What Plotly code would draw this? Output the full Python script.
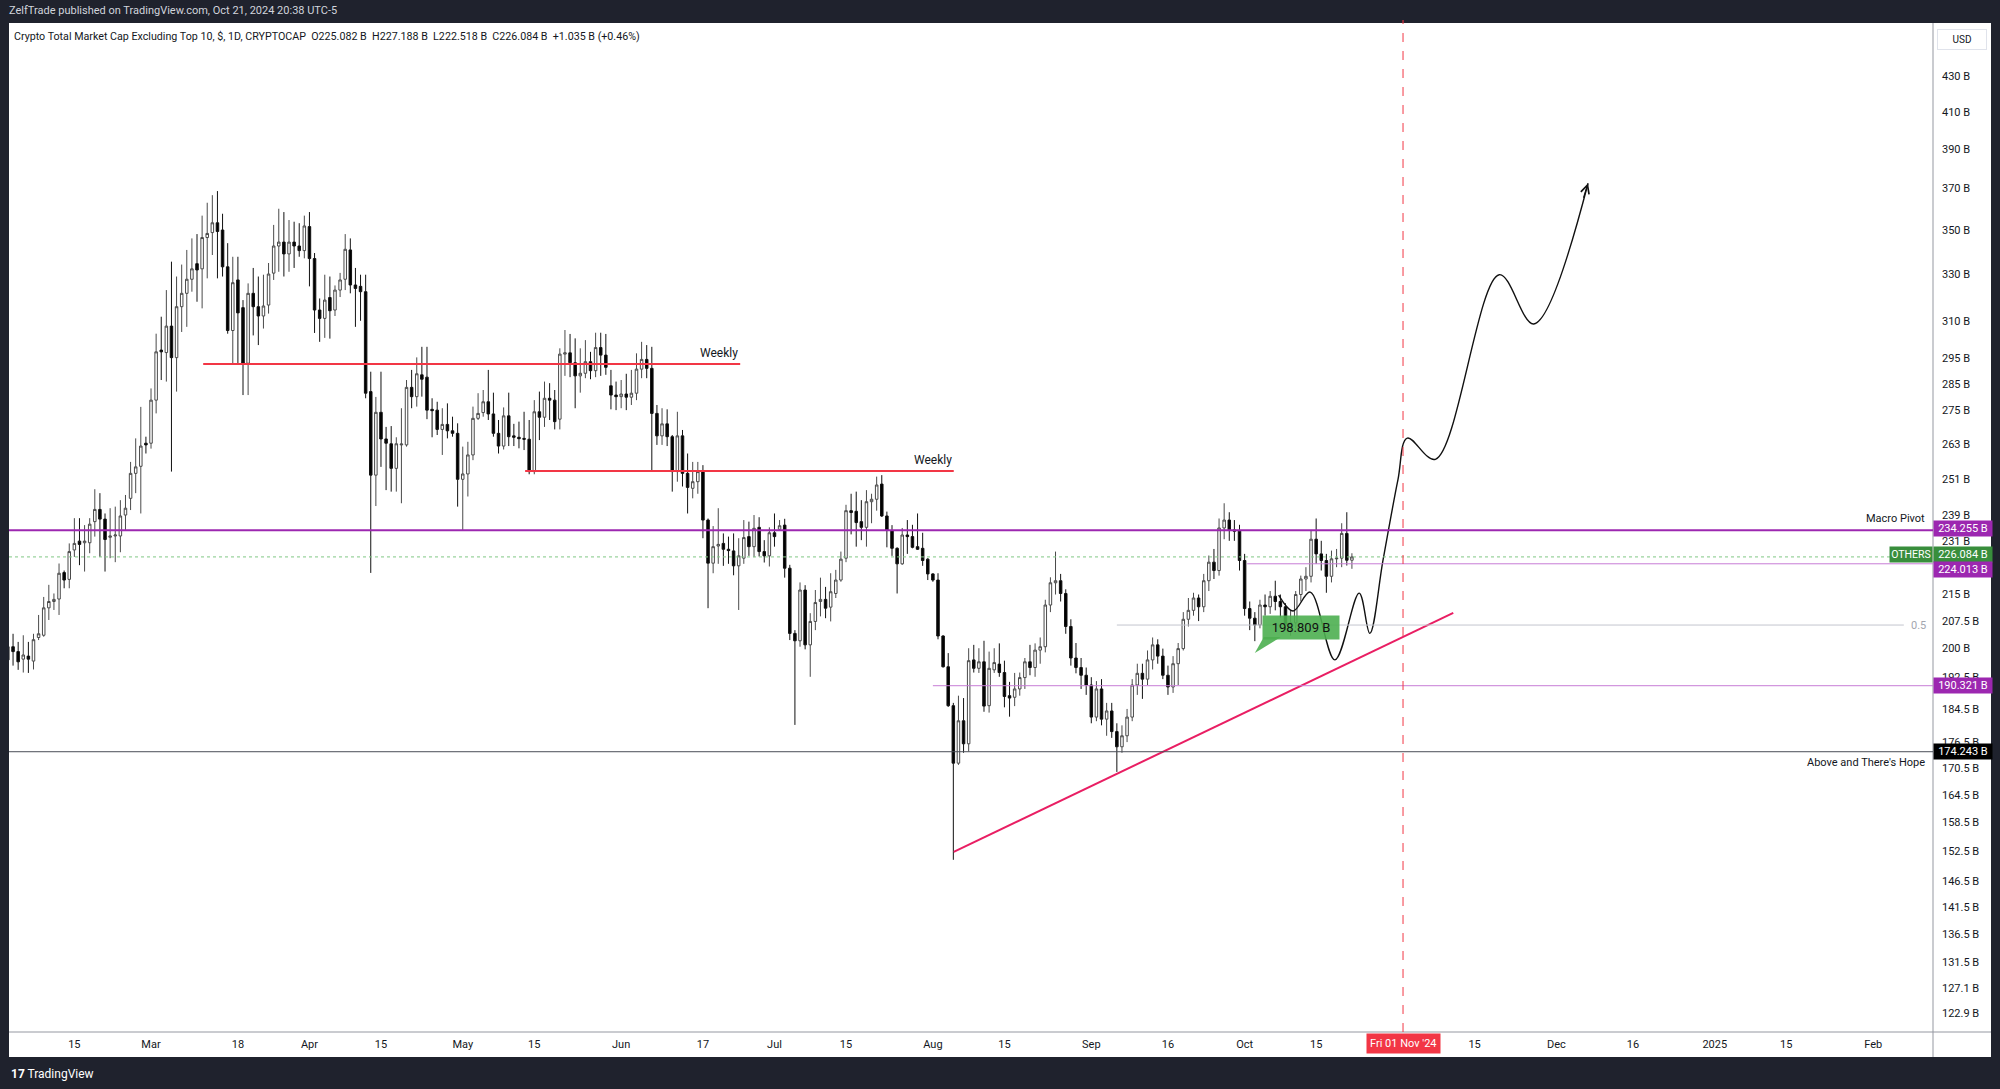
import math
import pandas as pd
import plotly.graph_objects as go

# ---------------- data (values in billions USD) ----------------
opens = [
    197.0, 200.5, 199.2, 197.2, 198.0, 196.7, 203.0, 203.6, 211.2, 213.0,
    213.7, 221.4, 219.4, 228.2, 230.9, 230.4, 230.4, 237.0, 240.9, 237.8,
    232.1, 232.5, 232.5, 239.1, 244.5, 252.8, 255.2, 263.2, 263.2, 278.8,
    298.1, 297.1, 307.8, 295.1, 315.9, 321.6, 327.7, 334.6, 332.3, 346.5,
    348.8, 353.4, 350.0, 333.2, 306.0, 327.4, 315.5, 292.9, 321.6, 315.9,
    312.0, 316.6, 330.4, 342.6, 344.4, 339.0, 344.4, 342.6, 340.5, 351.6,
    336.9, 314.5, 311.0, 319.8, 314.5, 323.0, 327.7, 340.8, 325.2, 324.6,
    322.3, 282.0, 252.2, 274.3, 264.7, 263.0, 254.5, 262.6, 262.6, 283.6,
    280.1, 288.4, 287.5, 275.4, 275.1, 268.1, 269.9, 267.6, 266.7, 250.8,
    252.6, 259.1, 272.1, 274.2, 278.2, 273.7, 266.7, 262.2, 273.0, 265.8,
    265.3, 264.9, 264.6, 253.4, 274.5, 272.5, 279.5, 278.8, 271.8, 296.5,
    297.0, 293.1, 288.0, 289.0, 293.5, 290.0, 299.1, 296.1, 284.2, 280.7,
    280.1, 281.1, 279.9, 281.4, 290.6, 294.4, 290.9, 273.9, 265.8, 270.1,
    265.5, 253.4, 265.8, 252.8, 247.8, 250.0, 253.7, 237.5, 224.2, 229.4,
    230.2, 228.4, 227.9, 223.4, 225.7, 232.3, 229.2, 235.2, 227.7, 226.4,
    233.5, 234.6, 235.9, 222.7, 204.1, 202.1, 216.3, 201.0, 207.4, 213.0,
    213.6, 211.4, 215.3, 219.2, 225.7, 240.5, 240.3, 237.0, 235.2, 243.4,
    244.2, 249.2, 238.8, 234.2, 228.7, 224.0, 232.8, 232.3, 229.2, 228.7,
    225.4, 221.0, 219.2, 203.4, 195.2, 185.3, 171.6, 181.6, 176.1, 197.0,
    194.8, 196.5, 185.3, 194.4, 195.9, 193.7, 187.8, 187.4, 189.5, 192.4,
    196.5, 195.0, 199.6, 200.5, 212.0, 218.4, 219.0, 215.3, 206.0, 197.5,
    195.0, 193.0, 190.5, 182.5, 189.5, 182.0, 184.0, 179.0, 175.4, 178.0,
    182.5, 190.5, 193.5, 192.0, 197.0, 201.0, 198.0, 193.0, 190.0, 196.0,
    200.0, 208.0, 210.5, 214.0, 211.5, 219.0, 224.5, 222.0, 235.0, 237.5,
    234.4, 234.0, 225.0, 211.0, 208.3, 206.4, 212.0, 211.5, 214.5, 213.0,
    211.5, 206.0, 207.0, 215.0, 219.5, 220.3, 231.5, 227.0, 225.0, 220.3,
    225.5, 225.7, 233.3, 225.082,
]
highs = [
    204.5, 204.0, 201.8, 203.6, 201.8, 204.0, 209.2, 214.3, 217.8, 215.3,
    224.1, 222.0, 230.2, 238.1, 238.1, 235.9, 238.1, 247.5, 246.2, 239.6,
    241.3, 241.8, 243.9, 245.6, 256.7, 264.9, 276.3, 265.5, 283.2, 304.7,
    311.7, 323.0, 335.5, 328.9, 334.2, 340.8, 346.1, 348.1, 356.8, 363.0,
    366.7, 368.7, 357.7, 343.9, 337.7, 337.7, 318.7, 325.9, 332.7, 328.9,
    329.7, 334.9, 352.4, 360.1, 358.5, 354.7, 353.9, 353.2, 356.8, 358.5,
    339.4, 319.4, 329.7, 328.9, 325.0, 330.5, 348.1, 346.1, 332.7, 329.7,
    329.7, 289.6, 280.0, 289.6, 269.0, 269.3, 265.3, 275.8, 286.4, 290.3,
    295.2, 299.4, 299.4, 279.5, 278.2, 275.8, 277.6, 272.7, 270.3, 262.0,
    263.7, 276.4, 281.4, 282.6, 290.3, 281.6, 271.5, 276.1, 281.6, 270.1,
    270.9, 274.5, 271.5, 278.8, 282.0, 285.8, 285.2, 282.6, 298.8, 306.2,
    304.6, 302.8, 298.8, 302.1, 297.4, 305.1, 305.1, 304.6, 290.3, 285.8,
    286.4, 288.8, 290.3, 296.8, 301.4, 300.1, 299.4, 277.0, 275.8, 275.4,
    266.1, 274.5, 267.9, 259.6, 256.7, 256.7, 255.6, 238.0, 235.6, 241.3,
    233.3, 232.3, 233.3, 231.8, 237.5, 237.0, 239.1, 238.4, 231.2, 235.2,
    239.6, 237.5, 237.9, 223.7, 205.0, 218.5, 217.7, 209.7, 216.3, 219.9,
    217.2, 221.2, 222.2, 227.7, 242.4, 246.0, 246.7, 243.9, 247.2, 246.0,
    251.7, 252.2, 240.2, 235.9, 229.0, 235.0, 237.5, 236.0, 239.6, 233.5,
    225.7, 221.2, 221.2, 203.6, 198.8, 186.0, 187.8, 187.2, 200.1, 201.0,
    200.1, 202.1, 199.2, 200.1, 201.4, 196.8, 191.3, 193.6, 193.7, 197.5,
    201.0, 201.4, 203.0, 213.5, 220.0, 227.7, 221.0, 216.5, 208.0, 201.5,
    197.5, 195.0, 192.5, 191.5, 192.0, 186.0, 186.0, 181.0, 180.5, 184.5,
    192.0, 196.0, 196.0, 199.5, 203.0, 202.5, 200.0, 195.5, 198.0, 201.5,
    210.0, 214.0, 215.5, 215.0, 221.0, 226.5, 228.5, 238.0, 242.9, 240.0,
    237.5, 236.0, 227.0, 213.0, 210.0, 213.5, 215.0, 216.0, 219.0, 215.0,
    212.5, 210.5, 216.0, 220.5, 223.0, 234.4, 238.0, 231.0, 227.0, 228.0,
    228.5, 236.5, 240.0, 227.188,
]
lows = [
    194.8, 195.5, 194.4, 193.7, 193.6, 194.5, 202.3, 203.2, 207.8, 210.6,
    209.2, 216.8, 216.8, 226.1, 223.6, 221.7, 227.2, 232.3, 226.1, 221.7,
    225.7, 224.5, 227.5, 234.4, 240.7, 246.2, 239.6, 259.6, 261.3, 273.9,
    286.4, 285.8, 253.4, 282.0, 305.4, 307.5, 322.3, 318.0, 315.2, 328.1,
    338.5, 328.1, 328.9, 304.7, 292.9, 292.9, 280.7, 280.7, 304.0, 300.1,
    306.8, 313.0, 327.4, 331.0, 328.9, 331.0, 332.7, 337.7, 337.0, 324.6,
    305.0, 301.4, 303.0, 302.7, 312.0, 320.0, 323.0, 321.6, 307.5, 310.0,
    279.5, 221.3, 242.0, 255.0, 247.2, 246.7, 246.7, 242.9, 262.0, 275.8,
    276.4, 280.1, 271.8, 265.3, 266.1, 259.1, 264.9, 265.5, 241.8, 234.2,
    245.1, 257.3, 271.5, 272.7, 271.5, 265.5, 259.6, 261.0, 262.2, 262.2,
    261.4, 260.8, 252.5, 252.5, 264.3, 269.0, 271.5, 268.1, 268.1, 288.0,
    287.5, 275.8, 281.6, 287.1, 286.7, 287.5, 288.0, 288.4, 275.4, 275.1,
    275.8, 275.1, 277.0, 278.8, 287.1, 287.1, 253.6, 262.6, 262.6, 262.2,
    246.7, 250.0, 248.4, 239.6, 244.5, 246.0, 231.8, 211.1, 221.2, 224.0,
    223.4, 224.0, 220.6, 210.6, 224.0, 226.4, 226.0, 226.2, 224.4, 223.2,
    229.2, 234.2, 219.9, 202.3, 180.6, 200.5, 199.8, 192.6, 205.0, 208.8,
    208.3, 207.4, 214.0, 218.7, 224.5, 233.0, 229.2, 231.2, 229.2, 236.5,
    240.5, 238.5, 229.0, 226.4, 215.3, 223.7, 227.0, 228.7, 228.2, 223.4,
    219.2, 218.7, 202.5, 195.0, 185.0, 150.8, 171.2, 174.0, 174.3, 193.7,
    193.6, 183.8, 183.6, 193.6, 192.6, 184.9, 182.6, 185.2, 187.8, 189.5,
    193.0, 192.6, 196.0, 199.0, 210.0, 215.0, 213.0, 204.0, 195.5, 193.5,
    189.5, 188.0, 181.0, 181.5, 180.5, 178.0, 177.5, 169.6, 174.0, 176.5,
    181.5, 188.0, 187.0, 190.5, 194.5, 196.0, 192.0, 188.0, 188.5, 190.5,
    199.5, 206.0, 209.0, 207.5, 210.0, 216.0, 219.5, 220.5, 231.5, 231.0,
    231.0, 222.0, 209.0, 205.0, 202.0, 205.5, 209.0, 209.5, 210.5, 208.5,
    205.0, 203.5, 205.5, 213.0, 216.0, 218.5, 224.0, 222.0, 215.5, 218.5,
    223.0, 223.0, 223.5, 222.518,
]
closes = [
    200.5, 199.2, 196.5, 198.3, 197.2, 202.4, 204.0, 211.2, 213.0, 213.6,
    221.2, 219.2, 227.7, 230.2, 229.9, 230.9, 236.2, 240.9, 237.8, 231.4,
    232.5, 232.8, 238.8, 241.3, 252.8, 255.0, 262.2, 262.6, 278.8, 297.4,
    297.4, 307.8, 295.1, 315.9, 321.6, 327.7, 332.3, 331.8, 346.5, 348.4,
    353.4, 349.3, 333.2, 306.0, 326.2, 313.3, 292.9, 321.6, 315.9, 312.0,
    316.2, 330.0, 342.6, 344.4, 339.0, 344.4, 342.6, 340.5, 351.9, 336.9,
    314.5, 311.0, 318.7, 314.2, 323.0, 327.4, 341.1, 325.2, 323.7, 322.3,
    281.4, 252.2, 274.3, 264.7, 263.2, 254.5, 263.0, 262.9, 283.6, 280.1,
    288.8, 286.7, 275.1, 274.9, 268.1, 269.9, 267.6, 266.7, 250.8, 252.6,
    259.1, 272.1, 273.9, 278.2, 273.7, 266.7, 262.2, 273.0, 265.5, 265.3,
    264.8, 264.6, 253.4, 274.5, 272.5, 279.5, 278.8, 270.9, 296.5, 297.0,
    293.1, 288.0, 289.0, 293.5, 290.0, 299.1, 296.1, 291.3, 280.7, 280.1,
    281.1, 279.9, 281.4, 290.6, 294.4, 290.9, 273.9, 265.8, 270.1, 265.5,
    253.4, 265.8, 252.8, 248.1, 250.0, 253.4, 237.5, 224.2, 229.2, 229.9,
    228.4, 228.0, 223.4, 226.4, 232.0, 229.2, 234.9, 227.7, 226.4, 233.5,
    232.3, 235.7, 222.7, 204.1, 202.1, 216.3, 201.0, 207.4, 212.7, 213.6,
    211.1, 215.8, 219.2, 225.4, 240.5, 239.9, 236.7, 235.2, 243.4, 244.2,
    248.9, 238.8, 234.2, 228.7, 224.0, 232.8, 232.3, 229.0, 228.4, 225.0,
    221.0, 219.2, 203.4, 195.2, 185.3, 171.6, 181.6, 176.1, 196.8, 194.8,
    196.5, 185.2, 194.8, 196.3, 193.7, 187.6, 187.2, 189.5, 192.4, 196.5,
    195.0, 199.6, 200.5, 212.0, 218.4, 219.0, 215.3, 206.0, 197.5, 195.0,
    193.0, 190.5, 182.5, 189.5, 182.0, 184.0, 179.0, 175.4, 178.0, 182.5,
    190.5, 193.5, 192.0, 197.0, 201.0, 198.0, 193.0, 190.0, 196.0, 200.0,
    208.0, 210.5, 214.0, 211.5, 219.0, 224.5, 222.0, 235.0, 237.5, 234.4,
    234.0, 225.0, 211.0, 208.3, 206.4, 212.0, 211.5, 214.5, 213.0, 211.5,
    206.4, 207.0, 215.0, 219.5, 220.3, 231.5, 227.0, 225.0, 220.3, 225.5,
    225.7, 233.3, 225.082, 226.084,
]
first_day = "2024-02-02"
dates = pd.date_range(first_day, periods=len(opens), freq="D")

# price levels drawn on the chart
macro_pivot = 234.255
last_price = 226.084
level_224 = 224.013
level_190 = 190.321
hope_level = 174.243
fib_half = 206.4
weekly_upper = 292.6
weekly_lower = 253.6
callout_value = 198.809

# hand drawn projection path
proj_dates = ["2024-10-07 16:00", "2024-10-10 12:00", "2024-10-13 20:00", "2024-10-18 16:00",
              "2024-10-23 10:00", "2024-10-25 12:00", "2024-10-28 02:00", "2024-10-31 00:00",
              "2024-11-01 20:00", "2024-11-07 08:00", "2024-11-19 20:00", "2024-11-26 14:00",
              "2024-12-07 05:00"]
proj_vals = [214.8, 210.3, 215.7, 197.0, 215.4, 204.1, 225.1, 250.6, 265.0, 257.6, 329.7, 308.7, 372.6]

# trend line
trend_dates = ["2024-08-05 02:00", "2024-11-10 20:00"]
trend_vals = [152.4, 209.8]

y_ticks = [430, 410, 390, 370, 350, 330, 310, 295, 285, 275, 263, 251, 239, 231, 215, 207.5,
           200, 192.5, 184.5, 176.5, 170.5, 164.5, 158.5, 152.5, 146.5, 141.5, 136.5, 131.5,
           127.1, 122.9]
y_tick_text = [("%g B" % v) for v in y_ticks]

x_tick_dates = ["2024-02-15", "2024-03-01", "2024-03-18", "2024-04-01", "2024-04-15", "2024-05-01",
                "2024-05-15", "2024-06-01", "2024-06-17", "2024-07-01", "2024-07-15", "2024-08-01",
                "2024-08-15", "2024-09-01", "2024-09-16", "2024-10-01", "2024-10-15", "2024-11-15",
                "2024-12-01", "2024-12-16", "2025-01-01", "2025-01-15", "2025-02-01"]
x_tick_text = ["15", "Mar", "18", "Apr", "15", "May", "15", "Jun", "17", "Jul", "15", "Aug",
               "15", "Sep", "16", "Oct", "15", "15", "Dec", "16", "2025", "15", "Feb"]

# ---------------- layout geometry ----------------
W, H = 2000, 1089
PL, PR, PT, PB = 9, 1933, 23, 1032   # plot area in pixels
pw, ph = PR - PL, PB - PT


def px_x(px):
    return (px - PL) / pw


def px_y(py):
    return (PB - py) / ph


FONT = "Roboto, 'Open Sans', sans-serif"
DARK = "#1f222d"
TXT = "#131722"
RED = "#f23645"
PURPLE = "#9c27b0"
LPURPLE = "#c77dd6"
GREEN = "#388e3c"

fig = go.Figure()
fig.add_trace(go.Candlestick(
    x=dates, open=opens, high=highs, low=lows, close=closes,
    increasing=dict(line=dict(color="#4a4a4a", width=1), fillcolor="#ffffff"),
    decreasing=dict(line=dict(color="#111111", width=1), fillcolor="#000000"),
    whiskerwidth=0, showlegend=False, hoverinfo="skip",
))
fig.add_trace(go.Scatter(
    x=proj_dates, y=proj_vals, mode="lines",
    line=dict(color="#111111", width=1.4, shape="spline", smoothing=1.0),
    showlegend=False, hoverinfo="skip",
))
fig.add_trace(go.Scatter(
    x=trend_dates, y=trend_vals, mode="lines",
    line=dict(color="#e91e63", width=2), showlegend=False, hoverinfo="skip",
))

shapes = [
    # white chart panel (plot + axes)
    dict(type="rect", xref="paper", yref="paper", x0=px_x(PL), x1=px_x(1991), y0=px_y(1057), y1=px_y(PT),
         fillcolor="#ffffff", line=dict(width=0), layer="below"),
    # right axis / time axis separators
    dict(type="line", xref="paper", yref="paper", x0=px_x(PR), x1=px_x(PR), y0=px_y(1057), y1=px_y(PT),
         line=dict(color="#9598a1", width=1)),
    dict(type="line", xref="paper", yref="paper", x0=px_x(PL), x1=px_x(1991), y0=0, y1=0,
         line=dict(color="#9598a1", width=1)),
    # full width levels
    dict(type="line", xref="paper", yref="y", x0=0, x1=1, y0=last_price, y1=last_price,
         line=dict(color="#81c784", width=1, dash="dot")),
    dict(type="line", xref="paper", yref="y", x0=0, x1=1, y0=macro_pivot, y1=macro_pivot,
         line=dict(color=PURPLE, width=2)),
    dict(type="line", xref="paper", yref="y", x0=0, x1=1, y0=hope_level, y1=hope_level,
         line=dict(color="#4a4d57", width=1)),
    # partial levels
    dict(type="line", xref="x", yref="y", x0="2024-10-01 12:00", x1="2025-02-13", y0=level_224, y1=level_224,
         line=dict(color=LPURPLE, width=1)),
    dict(type="line", xref="x", yref="y", x0="2024-08-01", x1="2025-02-13", y0=level_190, y1=level_190,
         line=dict(color=LPURPLE, width=1)),
    dict(type="line", xref="x", yref="y", x0="2024-09-06", x1="2025-02-07", y0=fib_half, y1=fib_half,
         line=dict(color="#c3c6ce", width=1)),
    dict(type="line", xref="x", yref="y", x0="2024-03-11 05:00", x1="2024-06-24 07:00",
         y0=weekly_upper, y1=weekly_upper, line=dict(color=RED, width=2)),
    dict(type="line", xref="x", yref="y", x0="2024-05-13 05:00", x1="2024-08-05 02:00",
         y0=weekly_lower, y1=weekly_lower, line=dict(color=RED, width=2)),
    # Nov 1 marker
    dict(type="line", xref="x", yref="paper", x0="2024-11-01", x1="2024-11-01", y0=0, y1=px_y(20),
         line=dict(color=RED, width=1, dash="dash")),
    # callout tail
    dict(type="path", xref="x", yref="y", xsizemode="pixel", ysizemode="pixel",
         xanchor="2024-10-03", yanchor=callout_value,
         path="M 0 0 L 9 16 L 26 16 Z", fillcolor="rgba(76,175,80,0.9)", line=dict(width=0)),
]

ann = []


def L10(v):
    return math.log10(v)


# top band and legend
ann.append(dict(text="ZelfTrade published on TradingView.com, Oct 21, 2024 20:38 UTC-5",
                xref="paper", yref="paper", x=px_x(7), y=px_y(11), xanchor="left", yanchor="middle",
                showarrow=False, font=dict(family=FONT, size=11, color="#d1d4dc")))
ann.append(dict(text="Crypto Total Market Cap Excluding Top 10, $, 1D, CRYPTOCAP&nbsp;&nbsp;O225.082 B&nbsp;&nbsp;"
                     "H227.188 B&nbsp;&nbsp;L222.518 B&nbsp;&nbsp;C226.084 B&nbsp;&nbsp;+1.035 B (+0.46%)",
                xref="paper", yref="paper", x=px_x(12), y=px_y(37), xanchor="left", yanchor="middle",
                showarrow=False, font=dict(family=FONT, size=10.7, color=TXT)))
ann.append(dict(text="<b>17</b> TradingView", xref="paper", yref="paper", x=px_x(9), y=px_y(1074),
                xanchor="left", yanchor="middle", showarrow=False,
                font=dict(family=FONT, size=12, color="#ffffff")))
# USD box
ann.append(dict(text="USD", xref="paper", yref="paper", x=px_x(1962), y=px_y(39), xanchor="center",
                yanchor="middle", showarrow=False, bgcolor="#ffffff", bordercolor="#e0e3eb", borderwidth=1,
                borderpad=4, width=40, font=dict(family=FONT, size=10, color=TXT)))

# line labels
ann.append(dict(text="Weekly", xref="x", yref="y", x="2024-06-24 07:00", y=L10(weekly_upper),
                xanchor="right", yanchor="bottom", yshift=2, showarrow=False,
                font=dict(family=FONT, size=12, color=TXT)))
ann.append(dict(text="Weekly", xref="x", yref="y", x="2024-08-05 02:00", y=L10(weekly_lower),
                xanchor="right", yanchor="bottom", yshift=2, showarrow=False,
                font=dict(family=FONT, size=12, color=TXT)))
ann.append(dict(text="Macro Pivot", xref="paper", yref="y", x=px_x(1927), y=L10(macro_pivot),
                xanchor="right", yanchor="bottom", yshift=3, showarrow=False,
                font=dict(family=FONT, size=11, color=TXT)))
ann.append(dict(text="Above and There's Hope", xref="paper", yref="y", x=px_x(1927), y=L10(hope_level),
                xanchor="right", yanchor="top", yshift=-2, showarrow=False,
                font=dict(family=FONT, size=11, color=TXT)))
ann.append(dict(text="0.5", xref="paper", yref="y", x=px_x(1918), y=L10(fib_half),
                xanchor="center", yanchor="middle", showarrow=False, bgcolor="#ffffff",
                font=dict(family=FONT, size=11, color="#a3a6af")))

# callout
ann.append(dict(text="198.809 B", xref="x", yref="y", x="2024-10-03", y=L10(callout_value),
                ax=46, ay=-26, showarrow=True, arrowhead=0, arrowwidth=0.1, arrowcolor="rgba(0,0,0,0)",
                bgcolor="rgba(76,175,80,0.9)", borderpad=4, width=68,
                font=dict(family=FONT, size=13, color="#111111")))

# projection arrowhead
ann.append(dict(text="", xref="x", yref="y", x=proj_dates[-1], y=L10(proj_vals[-1]),
                ax=-5, ay=16, showarrow=True, arrowhead=5, arrowsize=1.4, arrowwidth=1.2,
                arrowcolor="#111111", standoff=0))

# right axis labels (shifted a little, as the price scale does, so they do not collide)
for val, bg, shift in [(macro_pivot, PURPLE, 2), (last_price, GREEN, 2),
                       (level_224, PURPLE, -6), (level_190, PURPLE, 0),
                       (hope_level, "#000000", 0)]:
    ann.append(dict(text="%.3f B" % val, xref="paper", yref="y", x=1.0, y=L10(val), xanchor="left",
                    yanchor="middle", yshift=shift, showarrow=False, bgcolor=bg, borderpad=1,
                    width=56, height=13, font=dict(family=FONT, size=11, color="#ffffff")))
ann.append(dict(text="OTHERS", xref="paper", yref="y", x=1.0, y=L10(last_price), xanchor="right",
                yanchor="middle", yshift=2, showarrow=False, bgcolor=GREEN, borderpad=1, width=40,
                height=13, font=dict(family=FONT, size=10.5, color="#ffffff")))

# time axis Nov 1 label
ann.append(dict(text="Fri 01 Nov '24", xref="x", yref="paper", x="2024-11-01", y=px_y(1043),
                xanchor="center", yanchor="middle", showarrow=False, bgcolor=RED, borderpad=3,
                font=dict(family=FONT, size=11, color="#ffffff")))

fig.update_layout(
    width=W, height=H,
    margin=dict(l=PL, r=W - PR, t=PT, b=H - PB, pad=0, autoexpand=False),
    paper_bgcolor=DARK, plot_bgcolor="#ffffff",
    showlegend=False, shapes=shapes, annotations=ann, dragmode=False,
    xaxis=dict(type="date", range=["2024-02-02 05:00", "2025-02-12 17:00"],
               tickvals=x_tick_dates, ticktext=x_tick_text, showgrid=False, zeroline=False,
               showline=False, ticks="", tickfont=dict(family=FONT, size=11, color=TXT),
               rangeslider=dict(visible=False), ticklabelstandoff=4),
    yaxis=dict(type="log", range=[2.07842, 2.66427], side="right", tickvals=y_ticks,
               ticktext=y_tick_text, showgrid=False, zeroline=False, showline=False, ticks="",
               tickfont=dict(family=FONT, size=11, color=TXT), ticklabelstandoff=8),
)

fig.write_html("out.html", config={"displayModeBar": False},
               post_script="document.body.style.margin='0';document.body.style.overflow='hidden';")
